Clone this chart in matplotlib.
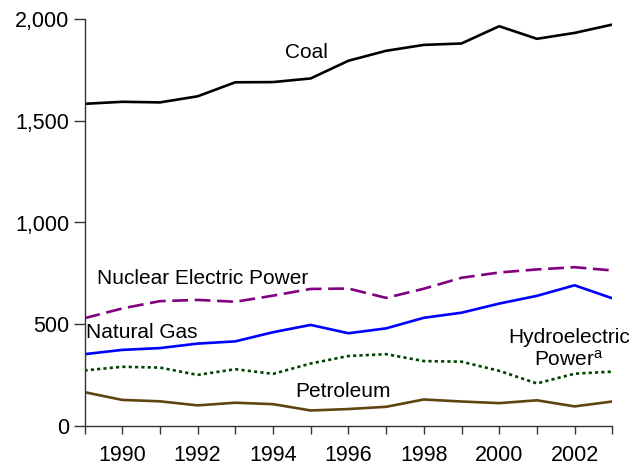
import matplotlib
matplotlib.use("Agg")
import matplotlib.pyplot as plt

years = list(range(1989, 2004))
coal = [1584, 1594, 1591, 1621, 1690, 1691, 1709, 1796, 1845, 1874, 1881, 1966, 1904, 1933, 1974]
nuclear = [529, 577, 613, 619, 610, 640, 673, 675, 629, 674, 728, 754, 769, 780, 764]
natural_gas = [352, 373, 382, 404, 415, 460, 496, 455, 479, 531, 556, 601, 639, 691, 627]
hydro = [272, 290, 286, 250, 278, 255, 306, 343, 352, 318, 315, 270, 208, 256, 266]
petroleum = [165, 127, 120, 100, 113, 106, 75, 82, 93, 129, 119, 111, 125, 95, 119]
ytick_vals = [0, 500, 1000, 1500, 2000]
ytick_labels = ["0", "500", "1,000", "1,500", "2,000"]
xtick_major = [1990, 1992, 1994, 1996, 1998, 2000, 2002]

plt.rcParams['font.family'] = ['Liberation Sans', 'DejaVu Sans']
plt.rcParams['mathtext.default'] = 'regular'

fig = plt.figure(figsize=(6.32, 4.69), dpi=100)
ax = fig.add_axes([84.5/632, 1-425.7/469, (612.3-84.5)/632, (425.7-19.3)/469])

lw = 1.9
ax.plot(years, coal, color='black', lw=lw)
ax.plot(years, nuclear, color='#800080', lw=lw, dashes=(6, 2.5))
ax.plot(years, natural_gas, color='#0000ff', lw=lw)
ax.plot(years, hydro, color='#004400', lw=lw, dashes=(1.2, 1.2))
ax.plot(years, petroleum, color='#5e4510', lw=lw)

ax.set_xlim(1989, 2003)
ax.set_ylim(0, 2000)
ax.set_yticks(ytick_vals)
ax.set_yticklabels(ytick_labels)
ax.set_xticks(xtick_major)
ax.set_xticks(years, minor=True)
ax.tick_params(axis='both', which='both', direction='out', labelsize=15.5, width=1, color='#333333')
ax.tick_params(axis='y', length=8, pad=3)
ax.tick_params(axis='x', which='both', length=6, pad=8)
for s in ['top', 'right']:
    ax.spines[s].set_visible(False)
for s in ['left', 'bottom']:
    ax.spines[s].set_color('#333333')
    ax.spines[s].set_linewidth(1)

fs = 15
ax.text(1994.88, 1839, "Coal", fontsize=fs, ha='center', va='center')
ax.text(1989.33, 722, "Nuclear Electric Power", fontsize=fs, ha='left', va='center')
ax.text(1989.04, 459, "Natural Gas", fontsize=fs, ha='left', va='center')
ax.text(2001.85, 436, "Hydroelectric", fontsize=fs, ha='center', va='center')
ax.text(2001.85, 323, "Power$^a$", fontsize=fs, ha='center', va='center')
ax.text(1995.86, 166, "Petroleum", fontsize=fs, ha='center', va='center')

fig.savefig("out.png", dpi=100)
